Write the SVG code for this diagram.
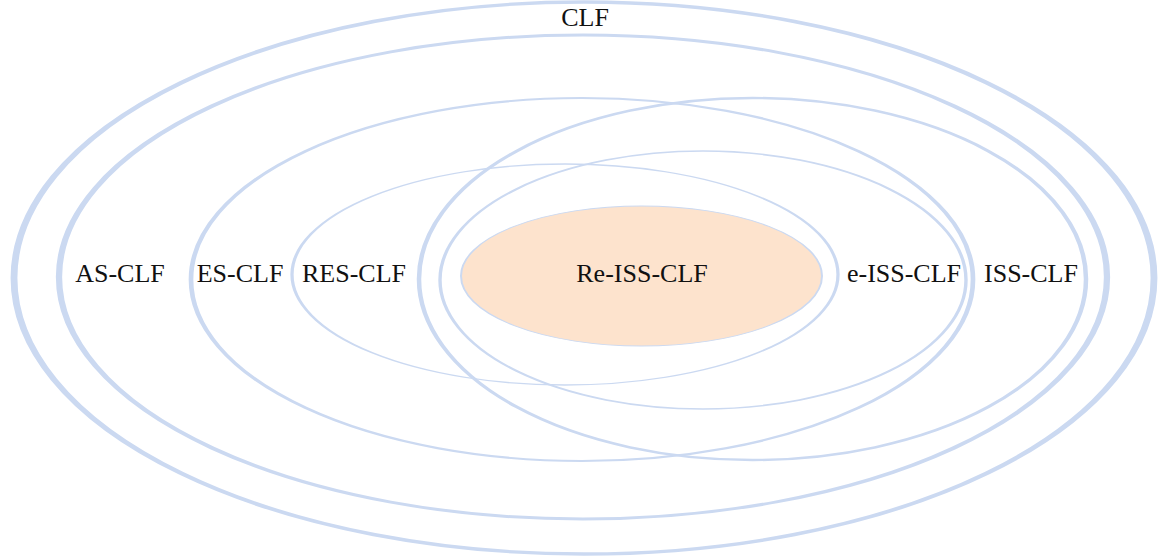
<svg xmlns="http://www.w3.org/2000/svg" width="1165" height="560" viewBox="0 0 1165 560">
<style>
.ring{fill:none;stroke:#CBD9F1}
.core{fill:#FDE3CD;stroke:#CBD9F1}
.lbl{font-family:"Liberation Serif","DejaVu Serif",serif;font-size:26px;fill:#111;text-anchor:middle}
</style>
<rect width="1165" height="560" fill="#fff"/>
<g id="CLF">
<g transform="translate(584 278) scale(5.70 2.76)"><circle class="ring" r="100" stroke-width="1.2"/></g>
<text class="lbl" x="585" y="26">CLF</text>
</g>
<g id="AS-CLF">
<g transform="translate(583 277) scale(5.24 2.42)"><circle class="ring" r="100" stroke-width="1.2"/></g>
<text class="lbl" x="120" y="282">AS-CLF</text>
</g>
<g id="ES-CLF">
<g transform="translate(582 279.5) scale(3.91 1.815)"><circle class="ring" r="100" stroke-width="1.2"/></g>
<text class="lbl" x="240" y="282">ES-CLF</text>
</g>
<g id="ISS-CLF">
<g transform="translate(752.5 279) scale(3.335 1.81)"><circle class="ring" r="100" stroke-width="1.35"/></g>
<text class="lbl" x="1031" y="282">ISS-CLF</text>
</g>
<g id="RES-CLF">
<g transform="translate(565 274.5) scale(2.73 1.105)"><circle class="ring" r="100" stroke-width="1.2"/></g>
<text class="lbl" x="354" y="282">RES-CLF</text>
</g>
<g id="e-ISS-CLF">
<g transform="translate(703 280) scale(2.63 1.29)"><circle class="ring" r="100" stroke-width="1.3"/></g>
<text class="lbl" x="904" y="282">e-ISS-CLF</text>
</g>
<g id="Re-ISS-CLF">
<g transform="translate(641.5 276) scale(1.805 0.70)"><circle class="core" r="100" stroke-width="1.1"/></g>
<text class="lbl" x="642" y="282">Re-ISS-CLF</text>
</g>
<g id="connectors"/>
</svg>
